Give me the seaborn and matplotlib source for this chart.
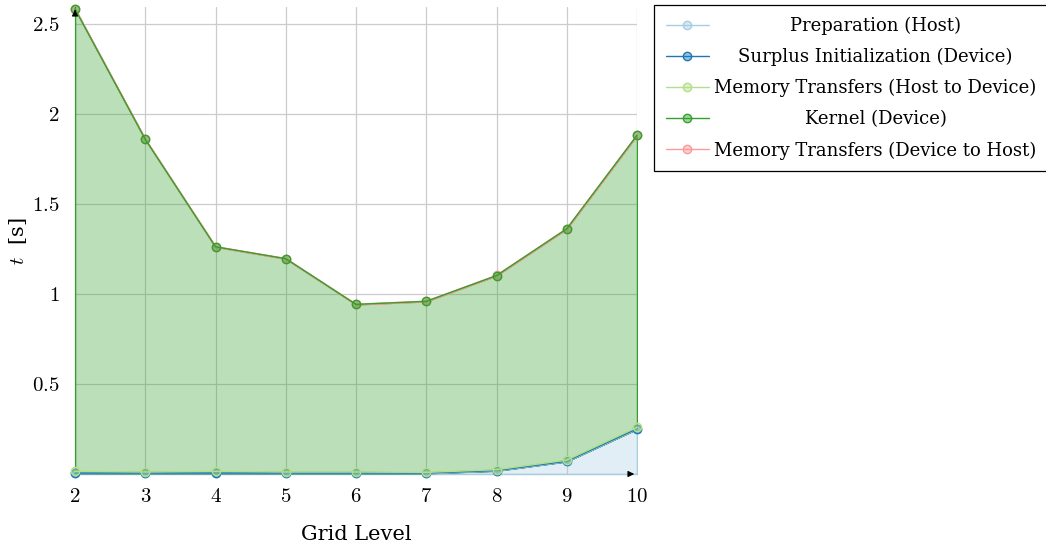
import numpy as np
import pandas as pd
import seaborn as sns
import matplotlib
matplotlib.use("Agg")
import matplotlib.pyplot as plt
from matplotlib.ticker import FuncFormatter, FixedLocator

# ---- data (seconds, per stage; areas are stacked) ----
levels = [2, 3, 4, 5, 6, 7, 8, 9, 10]
preparation = [0.004, 0.004, 0.004, 0.004, 0.004, 0.004, 0.018, 0.070, 0.250]
surplus_init = [0.001, 0.001, 0.001, 0.001, 0.001, 0.001, 0.001, 0.001, 0.001]
mem_h2d = [0.010, 0.006, 0.010, 0.006, 0.006, 0.004, 0.005, 0.006, 0.008]
kernel = [2.568, 1.848, 1.247, 1.185, 0.931, 0.950, 1.078, 1.285, 1.622]
mem_d2h = [0.001, 0.001, 0.001, 0.001, 0.001, 0.001, 0.001, 0.001, 0.001]
series_names = ["Preparation (Host)", "Surplus Initialization (Device)",
                "Memory Transfers (Host to Device)", "Kernel (Device)",
                "Memory Transfers (Device to Host)"]
y_ticks = [0.5, 1, 1.5, 2, 2.5]

sns.set_theme(style="whitegrid")
plt.rcParams['font.family'] = ['DejaVu Serif']
plt.rcParams['mathtext.fontset'] = 'cm'

W, H = 1046, 546
fig = plt.figure(figsize=(W / 100, H / 100), dpi=100)
ax = fig.add_axes([75 / W, 72 / H, 562 / W, 467 / H])

colors = sns.color_palette("Paired", 6)[:5]
values = [preparation, surplus_init, mem_h2d, kernel, mem_d2h]
line_z = [4.2, 4.3, 4.4, 5.0, 4.1]

lower = np.zeros(len(levels))
for name, vals, c, z in zip(series_names, values, colors, line_z):
    upper = lower + np.array(vals)
    ax.fill_between(levels, lower, upper, facecolor=(*c, 0.33), edgecolor=c,
                    linewidth=1.0, zorder=3)
    sns.lineplot(x=levels, y=upper, ax=ax, color=c, marker='o', markersize=6,
                 markerfacecolor=(*c, 0.45), markeredgecolor=c, markeredgewidth=1.0,
                 linewidth=1.0, label=name, zorder=z, clip_on=False)
    lower = upper

ax.set_xlim(2, 10)
ax.set_ylim(0, 2.594)
ax.xaxis.set_major_locator(FixedLocator(levels))
ax.yaxis.set_major_locator(FixedLocator(y_ticks))
fmt = FuncFormatter(lambda v, p: f"${v:g}$")
ax.xaxis.set_major_formatter(fmt)
ax.yaxis.set_major_formatter(fmt)
ax.tick_params(axis='both', labelsize=15, colors='black', length=0)
ax.tick_params(axis='x', pad=9)
ax.tick_params(axis='y', pad=11)
ax.grid(True, color='0.8', linewidth=0.9)
ax.set_axisbelow(True)

for s in ['top', 'right']:
    ax.spines[s].set_visible(False)
for s in ['left', 'bottom']:
    ax.spines[s].set_color('black')
    ax.spines[s].set_linewidth(0.8)

ax.annotate("", xy=(1.0, 0), xytext=(0.985, 0), xycoords='axes fraction',
            arrowprops=dict(arrowstyle='-|>', color='black', lw=0.8, mutation_scale=9),
            annotation_clip=False, zorder=6)
ax.annotate("", xy=(0, 1.0), xytext=(0, 0.985), xycoords='axes fraction',
            arrowprops=dict(arrowstyle='-|>', color='black', lw=0.8, mutation_scale=9),
            annotation_clip=False, zorder=6)

ax.set_xlabel("Grid Level", fontsize=15, color='black', labelpad=14)
ax.set_ylabel("$t$  [s]", fontsize=15, color='black', labelpad=2)

leg = ax.legend(loc='upper left', bbox_to_anchor=(654 / W, 1 - 5 / H),
                bbox_transform=fig.transFigure, borderaxespad=0, frameon=True,
                fancybox=False, edgecolor='black', framealpha=1, fontsize=13,
                handlelength=2.4, handletextpad=0.3, labelspacing=0.72, borderpad=0.65)
leg.get_frame().set_linewidth(0.9)
for t in leg.get_texts():
    t.set_color('black')

fig.canvas.draw()
texts = leg.get_texts()
widths = [t.get_window_extent().width for t in texts]
wmax = max(widths)
for t, w in zip(texts, widths):
    t.set_position(((wmax - w) / 2, 0))

fig.savefig("out.png", dpi=100)
